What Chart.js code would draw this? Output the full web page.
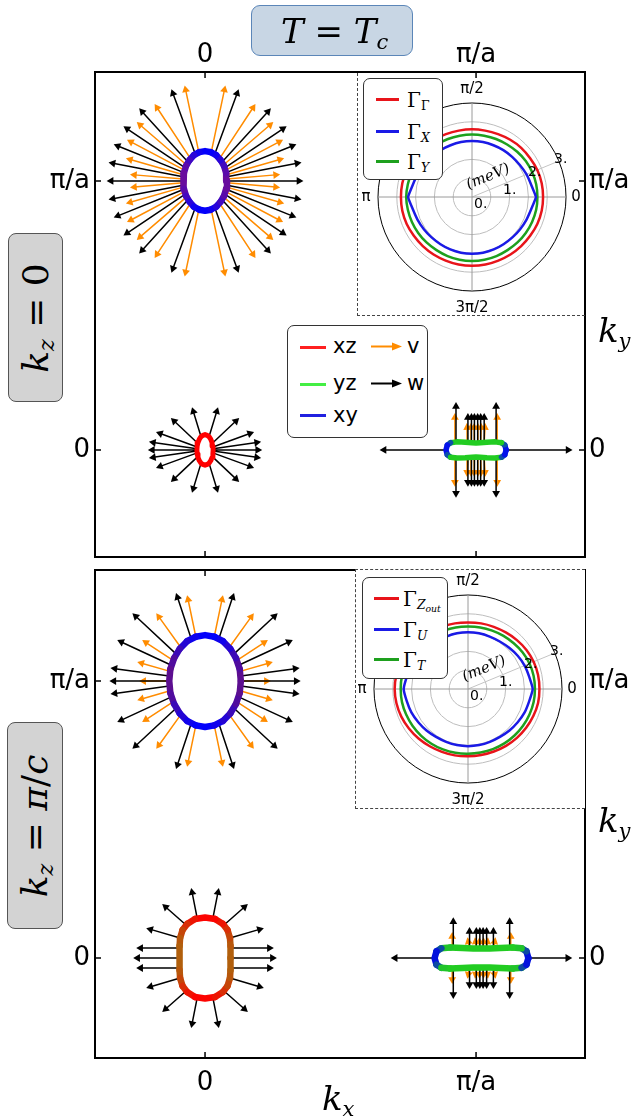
<!DOCTYPE html>
<html>
<head>
<meta charset="utf-8">
<script src="https://cdn.jsdelivr.net/npm/chart.js"></script>
<style>
  body { margin: 0; background: #fff; }
  #page { position: relative; width: 634px; height: 1119px; overflow: hidden; font-family: 'DejaVu Sans', sans-serif; color: #000; }
  canvas, .abs { position: absolute; }
  .math { font-family: 'DejaVu Serif', serif; font-style: italic; }
  .up { font-style: normal; }
  .sidebox { background: #d3d3d3; border: 1px solid #555; border-radius: 8px; box-sizing: border-box; }
  .rot { position: absolute; left: 50%; top: 50%; transform: translate(-50%, -50%) rotate(-90deg); white-space: nowrap; font-size: 36px; line-height: 1; }
  .lgd { background: #fff; border: 1px solid #333; border-radius: 7px; box-sizing: border-box; }
  .sw { position: absolute; height: 2.5px; }
  .lt { position: absolute; line-height: 1; transform: translateY(-50%); white-space: nowrap; }
  sub { font-size: 0.62em; vertical-align: -0.28em; line-height: 0; }
</style>
</head>
<body>
<div id="page">
  <canvas id="topChart" width="634" height="570" style="left:0;top:0"></canvas>
  <canvas id="botChart" width="634" height="554" style="left:0;top:565px"></canvas>

  <div class="abs" style="left:357px;top:73px;width:227px;height:242px;border-left:1px dashed #444;border-bottom:1px dashed #444;"></div>
  <div class="abs" style="left:355px;top:569px;width:229px;height:238px;background:#fff;border:1px dashed #444;border-right:none;"></div>

  <canvas id="polarTop" width="240" height="240" style="left:352px;top:77px"></canvas>
  <canvas id="polarBot" width="240" height="240" style="left:348px;top:569px"></canvas>

  <!-- inset legends -->
  <div class="abs lgd" style="left:363px;top:78px;width:80px;height:102px;">
    <div class="sw" style="left:12px;top:19px;width:23px;background:#e8141a"></div>
    <div class="lt math up" style="left:43px;top:21px;font-size:20px">Γ<sub>Γ</sub></div>
    <div class="sw" style="left:12px;top:51px;width:23px;background:#1a1ae6"></div>
    <div class="lt math up" style="left:43px;top:53px;font-size:20px">Γ<sub class="math">X</sub></div>
    <div class="sw" style="left:12px;top:81px;width:23px;background:#1ea01e"></div>
    <div class="lt math up" style="left:43px;top:83px;font-size:20px">Γ<sub class="math">Y</sub></div>
  </div>
  <div class="abs lgd" style="left:362px;top:577px;width:86px;height:102px;">
    <div class="sw" style="left:11px;top:19px;width:25px;background:#e8141a"></div>
    <div class="lt math up" style="left:40px;top:21px;font-size:20px">Γ<sub class="math">Z<sub class="math" style="font-size:0.75em">out</sub></sub></div>
    <div class="sw" style="left:11px;top:50px;width:25px;background:#1a1ae6"></div>
    <div class="lt math up" style="left:40px;top:52px;font-size:20px">Γ<sub class="math">U</sub></div>
    <div class="sw" style="left:11px;top:80px;width:25px;background:#1ea01e"></div>
    <div class="lt math up" style="left:40px;top:82px;font-size:20px">Γ<sub class="math">T</sub></div>
  </div>

  <!-- orbital / vector legend -->
  <div class="abs lgd" style="left:287px;top:325px;width:141px;height:113px;">
    <div class="sw" style="left:12px;top:20px;width:26px;background:#ff2020"></div>
    <div class="lt" style="left:45px;top:20px;font-size:21px">xz</div>
    <svg class="abs" style="left:83px;top:15px" width="32" height="11"><line x1="0" y1="5.5" x2="24" y2="5.5" stroke="#ff8c00" stroke-width="2"/><polygon points="21,1.5 31,5.5 21,9.5" fill="#ff8c00"/></svg>
    <div class="lt" style="left:119px;top:20px;font-size:21px">v</div>
    <div class="sw" style="left:12px;top:57px;width:26px;background:#44ee44"></div>
    <div class="lt" style="left:45px;top:57px;font-size:21px">yz</div>
    <svg class="abs" style="left:83px;top:52px" width="32" height="11"><line x1="0" y1="5.5" x2="24" y2="5.5" stroke="#000" stroke-width="2"/><polygon points="21,1.5 31,5.5 21,9.5" fill="#000"/></svg>
    <div class="lt" style="left:119px;top:57px;font-size:21px">w</div>
    <div class="sw" style="left:12px;top:88px;width:26px;background:#2020e0"></div>
    <div class="lt" style="left:45px;top:89px;font-size:21px">xy</div>
  </div>

  <!-- titles and axis names -->
  <div class="abs" style="left:251px;top:5px;width:162px;height:51px;background:#c8d6e4;border:1px solid #5b86b8;border-radius:9px;box-sizing:border-box;">
    <div class="lt math" style="left:29px;top:25px;font-size:34px">T <span class="up">=</span> T<sub>c</sub></div>
  </div>
  <div class="abs sidebox" style="left:8px;top:233px;width:55px;height:169px;"><div class="rot math">k<sub>z</sub> <span class="up">= 0</span></div></div>
  <div class="abs sidebox" style="left:7px;top:722px;width:56px;height:207px;"><div class="rot math">k<sub>z</sub> <span class="up">=</span> π<span class="up">/</span>c</div></div>
  <div class="abs lt math" style="left:598px;top:330px;font-size:34px">k<sub>y</sub></div>
  <div class="abs lt math" style="left:598px;top:820px;font-size:34px">k<sub>y</sub></div>
  <div class="abs lt math" style="left:322px;top:1098px;font-size:34px">k<sub>x</sub></div>
</div>

<script>
// ---------------- data (momenta in units of pi/a) ----------------
const kTickValues = [0, 1];
const kTickLabels = ['0', 'π/a'];

// pocket centres
const centreA = [0, 1];      // top panel, (0, pi/a)
const centreB = [0, 0];      // top panel, (0, 0)
const centreC = [1, 0];      // top panel, (pi/a, 0)
const centreD = [0, 1];      // bottom panel
const centreE = [0, 0];
const centreF = [1.02, 0];

// first-quadrant contour points of each Fermi pocket (offset from centre)
const ringA = [[0.081, 0], [0.078, 0.029], [0.070, 0.056], [0.057, 0.078], [0.041, 0.096], [0.021, 0.107], [0, 0.111]];
const ringB = [[0.030, 0], [0.029, 0.015], [0.026, 0.028], [0.021, 0.040], [0.015, 0.049], [0.008, 0.054], [0, 0.057]];
const ringC = [[0.111, 0], [0.106, 0.018], [0.094, 0.027], [0.070, 0.030], [0.040, 0.029], [0.015, 0.027], [0, 0.026]];
const ringD = [[0.132, 0], [0.128, 0.043], [0.114, 0.083], [0.093, 0.117], [0.066, 0.144], [0.034, 0.160], [0, 0.166]];
const ringE = [[0.094, 0], [0.094, 0.043], [0.092, 0.072], [0.083, 0.101], [0.066, 0.123], [0.037, 0.141], [0, 0.146]];
const ringF = [[0.173, 0], [0.166, 0.024], [0.148, 0.035], [0.115, 0.038], [0.070, 0.036], [0.030, 0.034], [0, 0.034]];

// first-quadrant arrows [baseX, baseY, tipX, tipY] (offset from centre); w = black, v = orange
const wA = [[0.081, 0, 0.363, 0], [0.081, 0.016, 0.356, 0.069], [0.078, 0.031, 0.337, 0.136], [0.073, 0.049, 0.301, 0.203], [0.063, 0.070, 0.243, 0.270], [0.036, 0.100, 0.124, 0.341]];
const vA = [[0.081, 0.007, 0.277, 0.024], [0.080, 0.023, 0.292, 0.084], [0.076, 0.040, 0.288, 0.153], [0.069, 0.060, 0.252, 0.219], [0.053, 0.082, 0.186, 0.286], [0.023, 0.107, 0.075, 0.355]];
const wB = [[0.030, 0, 0.211, 0], [0.030, 0.004, 0.207, 0.030], [0.029, 0.011, 0.181, 0.067], [0.027, 0.025, 0.126, 0.119], [0.015, 0.050, 0.048, 0.159]];
const vB = [];
const wC = [[0.111, 0, 0.356, 0], [0.074, 0.029, 0.074, 0.178], [0.030, 0.028, 0.030, 0.137], [0.017, 0.027, 0.017, 0.137], [0.006, 0.026, 0.006, 0.137]];
const vC = [[0.078, 0.029, 0.078, 0.137], [0.030, 0.028, 0.034, 0.100], [0.017, 0.027, 0.019, 0.100], [0.006, 0.026, 0.007, 0.100]];
const wD = [[0.132, 0, 0.353, 0], [0.132, 0.018, 0.349, 0.047], [0.124, 0.057, 0.324, 0.148], [0.107, 0.098, 0.268, 0.245], [0.051, 0.153, 0.107, 0.318]];
const vD = [[0.132, 0, 0.243, 0], [0.129, 0.035, 0.250, 0.069], [0.118, 0.075, 0.232, 0.148], [0.090, 0.122, 0.180, 0.245], [0.034, 0.160, 0.066, 0.310]];
const wE = [[0.094, 0, 0.265, 0], [0.094, 0.036, 0.254, 0.036], [0.092, 0.072, 0.217, 0.108], [0.070, 0.119, 0.158, 0.195], [0.029, 0.144, 0.051, 0.253]];
const vE = [];
const wF = [[0.173, 0, 0.335, 0], [0.104, 0.038, 0.104, 0.148], [0.044, 0.036, 0.044, 0.112], [0.019, 0.035, 0.019, 0.112], [0.006, 0.034, 0.006, 0.112]];
const vF = [[0.108, 0.038, 0.108, 0.094], [0.044, 0.036, 0.052, 0.075], [0.019, 0.035, 0.024, 0.075], [0.006, 0.034, 0.008, 0.075]];

// polar insets: gap (meV) versus angle on the Fermi surface
const thetaDeg = [0, 11.25, 22.5, 33.75, 45, 56.25, 67.5, 78.75, 90, 101.25, 112.5, 123.75, 135, 146.25, 157.5, 168.75,
                  180, 191.25, 202.5, 213.75, 225, 236.25, 247.5, 258.75, 270, 281.25, 292.5, 303.75, 315, 326.25, 337.5, 348.75];
const gapGammaTop = [1.89, 1.89, 1.88, 1.86, 1.85, 1.83, 1.81, 1.80, 1.80, 1.80, 1.81, 1.83, 1.85, 1.86, 1.88, 1.89,
                     1.89, 1.89, 1.88, 1.86, 1.85, 1.84, 1.83, 1.83, 1.83, 1.83, 1.83, 1.84, 1.85, 1.86, 1.88, 1.89];
const gapXTop = [1.70, 1.61, 1.57, 1.53, 1.51, 1.50, 1.49, 1.49, 1.49, 1.49, 1.49, 1.50, 1.51, 1.53, 1.57, 1.61,
                 1.70, 1.61, 1.57, 1.54, 1.52, 1.51, 1.51, 1.51, 1.51, 1.51, 1.51, 1.51, 1.52, 1.54, 1.57, 1.61];
const gapYTop = [1.74, 1.74, 1.73, 1.72, 1.70, 1.68, 1.67, 1.66, 1.66, 1.66, 1.67, 1.68, 1.70, 1.72, 1.73, 1.74,
                 1.75, 1.74, 1.73, 1.72, 1.71, 1.70, 1.70, 1.70, 1.70, 1.70, 1.70, 1.70, 1.71, 1.72, 1.73, 1.74];
const gapZoutBot = [1.90, 1.90, 1.89, 1.87, 1.84, 1.81, 1.79, 1.78, 1.77, 1.78, 1.79, 1.82, 1.85, 1.88, 1.91, 1.94,
                    1.95, 1.94, 1.92, 1.89, 1.86, 1.83, 1.81, 1.80, 1.79, 1.79, 1.80, 1.82, 1.84, 1.86, 1.88, 1.90];
const gapUBot = [1.72, 1.66, 1.63, 1.59, 1.55, 1.52, 1.51, 1.51, 1.51, 1.51, 1.51, 1.52, 1.55, 1.59, 1.63, 1.66,
                 1.71, 1.66, 1.63, 1.59, 1.56, 1.53, 1.52, 1.52, 1.52, 1.52, 1.52, 1.53, 1.56, 1.59, 1.63, 1.66];
const gapTBot = [1.78, 1.78, 1.77, 1.75, 1.72, 1.70, 1.68, 1.67, 1.66, 1.67, 1.68, 1.70, 1.73, 1.75, 1.77, 1.79,
                 1.79, 1.79, 1.78, 1.77, 1.76, 1.75, 1.74, 1.73, 1.72, 1.72, 1.73, 1.74, 1.75, 1.76, 1.77, 1.78];
const gapTickLabels = ['0.', '1.', '2.', '3.'];

// ---------------- helpers ----------------
Chart.defaults.font.family = 'DejaVu Sans';
const HEAD = 4.5 / 271;   // arrow head size in data units

function closeLoop(q) {
  const p = [];
  q.forEach(([x, y]) => p.push([x, y]));
  q.slice(0, -1).reverse().forEach(([x, y]) => p.push([-x, y]));
  q.slice(1).forEach(([x, y]) => p.push([-x, -y]));
  q.slice(0, -1).reverse().forEach(([x, y]) => p.push([x, -y]));
  return p;
}

function mirror(list) {
  const out = [];
  list.forEach(([bx, by, tx, ty]) => {
    const sx = (bx === 0 && tx === 0) ? [1] : [1, -1];
    const sy = (by === 0 && ty === 0) ? [1] : [1, -1];
    sx.forEach(a => sy.forEach(b => out.push([a * bx, b * by, a * tx, b * ty])));
  });
  return out;
}

function rgb(h) { return [1, 3, 5].map(i => parseInt(h.substr(i, 2), 16)); }
function mix(a, b, t) {
  const A = rgb(a), B = rgb(b);
  return 'rgb(' + A.map((v, i) => Math.round(v + (B[i] - v) * t)).join(',') + ')';
}

function pocketDatasets(pockets) {
  const rings = pockets.map(p => {
    const pts = closeLoop(p.ring);
    const a = p.ring[0][0], b = p.ring[p.ring.length - 1][1];
    return {
      data: pts.map(([x, y]) => ({ x: p.c[0] + x, y: p.c[1] + y })),
      showLine: true, pointRadius: 0, borderWidth: p.lw, borderColor: p.colY,
      borderCapStyle: 'round', borderJoinStyle: 'round',
      segment: {
        borderColor: s => {
          const m0 = pts[s.p0DataIndex], m1 = pts[s.p1DataIndex];
          let t;
          if (p.endCaps) {
            const mx = Math.abs((m0[0] + m1[0]) / 2);
            t = Math.max(0, Math.min(1, (a - mx) / (0.25 * a)));
          } else {
            t = Math.pow(Math.min(1, Math.abs((m0[1] + m1[1]) / 2) / b), p.pw);
          }
          return mix(p.colX, p.colY, t);
        }
      }
    };
  });
  const arrowSets = (key, colour) => {
    const shafts = [], heads = [], rots = [];
    pockets.forEach(p => mirror(p[key]).forEach(([bx, by, tx, ty]) => {
      const dx = tx - bx, dy = ty - by, len = Math.hypot(dx, dy);
      const hx = p.c[0] + tx - dx / len * HEAD, hy = p.c[1] + ty - dy / len * HEAD;
      shafts.push({ x: p.c[0] + bx, y: p.c[1] + by }, { x: hx, y: hy }, { x: NaN, y: NaN });
      heads.push({ x: hx, y: hy });
      rots.push(Math.atan2(dx, dy) * 180 / Math.PI);
    }));
    return [
      { data: heads, showLine: false, pointStyle: 'triangle', pointRadius: 4.5, pointBorderWidth: 0,
        pointBackgroundColor: colour, pointRotation: c => rots[c.dataIndex] },
      { data: shafts, showLine: true, pointRadius: 0, borderWidth: 1.5, borderColor: colour, spanGaps: false }
    ];
  };
  return [...rings, ...arrowSets('w', '#000000'), ...arrowSets('v', '#ff8c00')];
}

function kAxis(position, min, max, size, pad) {
  return {
    type: 'linear', position, min, max,
    grid: { display: false, drawTicks: false }, border: { display: false },
    afterBuildTicks: s => { s.ticks = kTickValues.map(v => ({ value: v })); },
    afterFit: s => {
      if (s.isHorizontal()) { s.height = size; s.paddingLeft = 0; s.paddingRight = 0; }
      else { s.width = size; s.paddingTop = 0; s.paddingBottom = 0; }
    },
    ticks: { callback: (v, i) => kTickLabels[i], color: '#000', font: { size: 26 }, padding: pad, autoSkip: false, maxRotation: 0 }
  };
}

const framePlugin = {
  id: 'frame',
  afterDraw(chart) {
    const { ctx, chartArea: a, scales } = chart;
    ctx.save();
    ctx.strokeStyle = '#000';
    ctx.lineWidth = 2;
    ctx.strokeRect(a.left, a.top, a.right - a.left, a.bottom - a.top);
    ctx.lineWidth = 1.5;
    ctx.beginPath();
    kTickValues.forEach(v => {
      const x = scales.x.getPixelForValue(v), y = scales.y.getPixelForValue(v);
      ctx.moveTo(x, a.top); ctx.lineTo(x, a.top + 6);
      ctx.moveTo(x, a.bottom); ctx.lineTo(x, a.bottom - 6);
      ctx.moveTo(a.left, y); ctx.lineTo(a.left + 6, y);
      ctx.moveTo(a.right, y); ctx.lineTo(a.right - 6, y);
    });
    ctx.stroke();
    ctx.restore();
  }
};

function mainChart(id, pockets, yMin, yMax, xPos, xSize, xPad, padding) {
  return new Chart(document.getElementById(id), {
    type: 'scatter',
    data: { datasets: pocketDatasets(pockets) },
    options: {
      responsive: false, animation: false, events: [],
      layout: { padding },
      plugins: { legend: { display: false }, tooltip: { enabled: false } },
      scales: {
        x: kAxis(xPos, -0.406, 1.402, xSize, xPad),
        y: kAxis('left', yMin, yMax, 95, 5),
        y2: kAxis('right', yMin, yMax, 49, 4)
      }
    },
    plugins: [framePlugin]
  });
}

mainChart('topChart', [
  { c: centreA, ring: ringA, w: wA, v: vA, colX: '#6a0c9c', colY: '#0000ff', pw: 2, lw: 6.5 },
  { c: centreB, ring: ringB, w: wB, v: vB, colX: '#ff0000', colY: '#ff0000', pw: 1, lw: 5 },
  { c: centreC, ring: ringC, w: wC, v: vC, colX: '#0000ff', colY: '#22cc22', endCaps: true, lw: 5.5 }
], -0.398, 1.405, 'top', 72, 1, { top: 0, bottom: 13, left: 0, right: 0 });

mainChart('botChart', [
  { c: centreD, ring: ringD, w: wD, v: vD, colX: '#5e0e8e', colY: '#0000ff', pw: 2, lw: 6.5 },
  { c: centreE, ring: ringE, w: wE, v: vE, colX: '#b0600c', colY: '#ff0000', pw: 2.5, lw: 6.5 },
  { c: centreF, ring: ringF, w: wF, v: vF, colX: '#0000ee', colY: '#22cc22', endCaps: true, lw: 6.5 }
], -0.361, 1.401, 'bottom', 61, 10, { top: 5, bottom: 0, left: 0, right: 0 });

// ---------------- polar insets ----------------
// radar index i sits at angle -i*11.25 deg (clockwise from the right), so reorder the counter-clockwise series
const toRadar = r => r.map((_, i) => r[(r.length - i) % r.length]);
const angleLineColour = i => (i % 8 === 0 ? '#9a9a9a' : (i === 30 ? '#c4c4c4' : 'rgba(0,0,0,0)'));

const polarDeco = {
  id: 'polarDeco',
  afterDraw(chart) {
    const s = chart.scales.r, ctx = chart.ctx;
    const R = s.drawingArea, cx = s.xCenter, cy = s.yCenter;
    ctx.save();
    ctx.fillStyle = '#000';
    ctx.font = '15px "DejaVu Sans"';
    ctx.textAlign = 'center';
    ctx.textBaseline = 'middle';
    ctx.fillText('π/2', cx, cy - R - 14);
    ctx.fillText('3π/2', cx, cy + R + 17);
    ctx.fillText('π', cx - R - 12, cy);
    ctx.fillText('0', cx + R + 10, cy);
    ctx.font = '14px "DejaVu Sans"';
    ctx.textAlign = 'left';
    ctx.textBaseline = 'alphabetic';
    const pos = [[2, 11], [31, -3], [56, -21], [82, -34]];
    gapTickLabels.forEach((t, i) => ctx.fillText(t, cx + pos[i][0], cy + pos[i][1]));
    ctx.translate(cx + 16, cy - 20);
    ctx.rotate(-22.5 * Math.PI / 180);
    ctx.font = 'italic 15px "DejaVu Serif"';
    ctx.textAlign = 'center';
    ctx.textBaseline = 'middle';
    ctx.fillText('(meV)', 0, 0);
    ctx.restore();
  }
};

function polarChart(id, series) {
  const colours = ['#e8141a', '#1a1ae6', '#1ea01e'];
  return new Chart(document.getElementById(id), {
    type: 'radar',
    data: {
      labels: thetaDeg,
      datasets: series.map((r, k) => ({
        data: toRadar(r), borderColor: colours[k], borderWidth: 2.5, pointRadius: 0, fill: false,
        tension: k === 1 ? 0.1 : 0.3
      }))
    },
    options: {
      responsive: false, animation: false, events: [],
      layout: { padding: 26 },
      plugins: { legend: { display: false }, tooltip: { enabled: false } },
      scales: {
        r: {
          min: 0, max: 2.5, startAngle: 90,
          ticks: { display: false, stepSize: 0.5 },
          pointLabels: { display: false },
          grid: { circular: true, color: c => (c.tick && c.tick.value >= 2.5 ? '#000' : '#bdbdbd'), lineWidth: 1 },
          angleLines: { display: true, color: c => angleLineColour(c.index), lineWidth: 1 }
        }
      }
    },
    plugins: [polarDeco]
  });
}

polarChart('polarTop', [gapGammaTop, gapXTop, gapYTop]);
polarChart('polarBot', [gapZoutBot, gapUBot, gapTBot]);
</script>
</body>
</html>
